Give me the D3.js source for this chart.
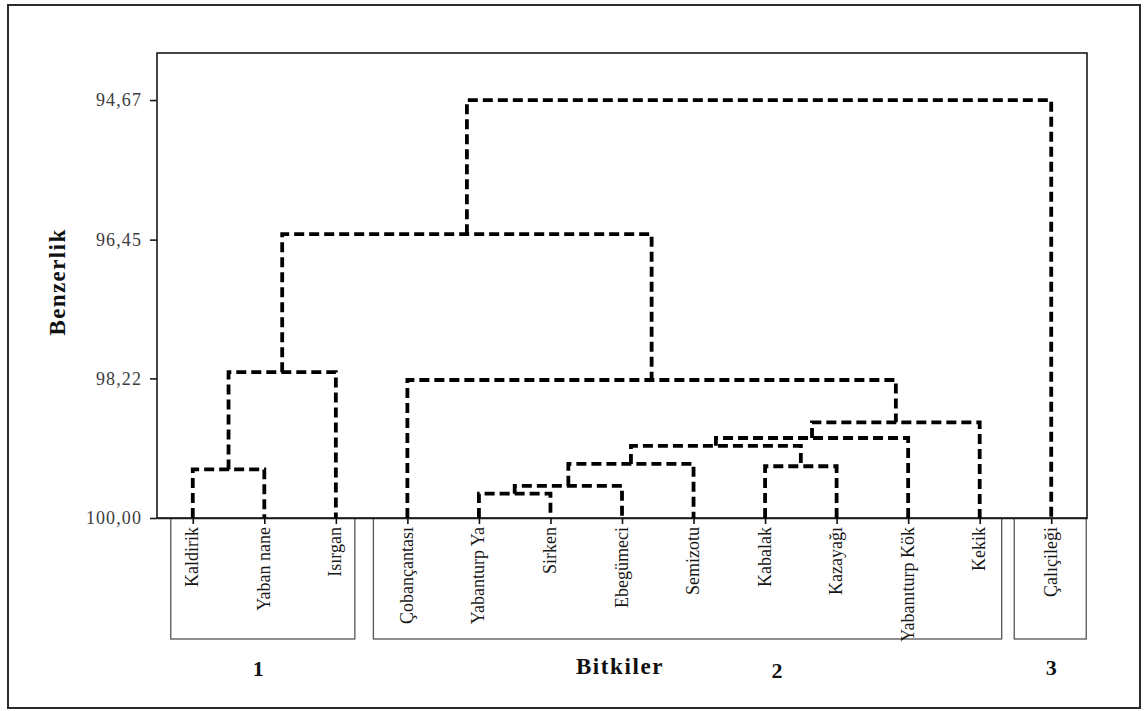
<!DOCTYPE html>
<html>
<head>
<meta charset="utf-8">
<script src="https://cdn.jsdelivr.net/npm/d3@7"></script>
<style>
  html, body { margin: 0; padding: 0; background: #fff; }
  svg { display: block; }
  text { font-family: "Liberation Serif", "Times New Roman", serif; }
</style>
</head>
<body>
<svg id="chart" width="1146" height="711"></svg>
<script>
// Plants in dendrogram leaf order
const leaves = ["Kaldirik", "Yaban nane", "Isırgan", "Çobançantası", "Yabanturp Ya",
  "Sirken", "Ebegümeci", "Semizotu", "Kabalak", "Kazayağı", "Yabanıturp Kök",
  "Kekik", "Çalıçileği"];

// Agglomeration steps: [left member, right member, similarity level]
// members named "cN" refer to the cluster formed at step N
const mergeLeft  = ["Kaldirik", "c0", "Yabanturp Ya", "c2", "c3", "Kabalak", "c4", "c6", "c7", "Çobançantası", "c1", "c10"];
const mergeRight = ["Yaban nane", "Isırgan", "Sirken", "Ebegümeci", "Semizotu", "Kazayağı", "c5", "Yabanıturp Kök", "Kekik", "c8", "c9", "Çalıçileği"];
const mergeLevel = [99.38, 98.14, 99.69, 99.59, 99.31, 99.34, 99.08, 98.98, 98.78, 98.24, 96.38, 94.67];

// Similarity axis ticks
const yTicks = [94.67, 96.45, 98.22, 100.00];

// Plant groups
const groupNames = ["1", "2", "3"];
const groupFirst = ["Kaldirik", "Çobançantası", "Çalıçileği"];
const groupLast  = ["Isırgan", "Kekik", "Çalıçileği"];

const yTitle = "Benzerlik";
const xTitle = "Bitkiler";

// ---- layout ----
const svg = d3.select("#chart");
const plot = { left: 157, top: 53, right: 1087, bottom: 518 };

const x = d3.scalePoint().domain(leaves).range([plot.left, plot.right]).padding(0.5);
const y = d3.scaleLinear().domain([94.07, 100]).range([plot.top, plot.bottom]);

// outer frame
svg.append("rect").attr("x", 8).attr("y", 5).attr("width", 1132).attr("height", 703)
  .attr("fill", "none").attr("stroke", "#2b2b2b").attr("stroke-width", 2);

// group boxes below the axis
const boxPad = [[-22, 19], [-34, 22], [-37, 35]];
const boxBottom = 639;
groupNames.forEach((g, i) => {
  const x0 = x(groupFirst[i]) + boxPad[i][0];
  const x1 = x(groupLast[i]) + boxPad[i][1];
  svg.append("rect").attr("x", x0).attr("y", plot.bottom).attr("width", x1 - x0)
    .attr("height", boxBottom - plot.bottom)
    .attr("fill", "none").attr("stroke", "#555").attr("stroke-width", 1.3);
});

// plot frame
svg.append("rect").attr("x", plot.left).attr("y", plot.top)
  .attr("width", plot.right - plot.left).attr("height", plot.bottom - plot.top)
  .attr("fill", "#fff").attr("stroke", "#1a1a1a").attr("stroke-width", 1.6);

// y axis
const yAxis = svg.append("g").attr("transform", `translate(${plot.left},0)`)
  .call(d3.axisLeft(y).tickValues(yTicks).tickSize(7).tickSizeOuter(0).tickPadding(8)
    .tickFormat(d => d.toFixed(2).replace(".", ",")));
yAxis.select(".domain").remove();
yAxis.selectAll(".tick line").attr("stroke", "#1a1a1a").attr("stroke-width", 1.6);
yAxis.selectAll(".tick text").attr("fill", "#3c3c3c").attr("font-size", 18)
  .attr("letter-spacing", 1.1).attr("font-family", "Liberation Serif, serif");

// x axis with rotated plant names
const xAxis = svg.append("g").attr("transform", `translate(0,${plot.bottom})`)
  .call(d3.axisBottom(x).tickSize(6).tickSizeOuter(0).tickPadding(0));
xAxis.select(".domain").attr("stroke", "#1a1a1a").attr("stroke-width", 1.6);
xAxis.selectAll(".tick line").attr("stroke", "#111").attr("stroke-width", 1.6);
xAxis.selectAll(".tick text")
  .attr("font-size", 18).attr("fill", "#161616").attr("font-family", "Liberation Serif, serif")
  .attr("text-anchor", "end")
  .attr("transform", "rotate(-90)")
  .attr("x", -9).attr("y", 0).attr("dy", "0.28em");

// dendrogram links
const pos = {};
leaves.forEach(l => { pos[l] = { x: x(l), h: 100 }; });
const links = mergeLevel.map((h, i) => {
  const a = pos[mergeLeft[i]], b = pos[mergeRight[i]];
  pos["c" + i] = { x: (a.x + b.x) / 2, h };
  return { a, b, h };
});
svg.append("g").selectAll("path").data(links).join("path")
  .attr("d", d => `M${d.a.x},${y(d.a.h)}V${y(d.h)}H${d.b.x}V${y(d.b.h)}`)
  .attr("fill", "none").attr("stroke", "#000").attr("stroke-width", 3.8)
  .attr("stroke-dasharray", "10,5");

// axis titles
svg.append("text").attr("transform", `translate(65,282) rotate(-90)`)
  .attr("text-anchor", "middle").attr("font-size", 23).attr("font-weight", "bold")
  .attr("letter-spacing", 1.4).attr("fill", "#111").text(yTitle);

svg.append("text").attr("x", x("Ebegümeci") - 2).attr("y", 674)
  .attr("text-anchor", "middle").attr("font-size", 23).attr("font-weight", "bold")
  .attr("letter-spacing", 1.6).attr("fill", "#111").text(xTitle);

// group numbers
const groupLabelAt = [x("Yaban nane") - 6, x("Kabalak") + 12, x("Çalıçileği")];
const groupLabelY = [676, 678, 675];
groupNames.forEach((g, i) => {
  svg.append("text").attr("x", groupLabelAt[i]).attr("y", groupLabelY[i])
    .attr("text-anchor", "middle").attr("font-size", 22).attr("font-weight", "bold")
    .attr("fill", "#111").text(g);
});
</script>
</body>
</html>
